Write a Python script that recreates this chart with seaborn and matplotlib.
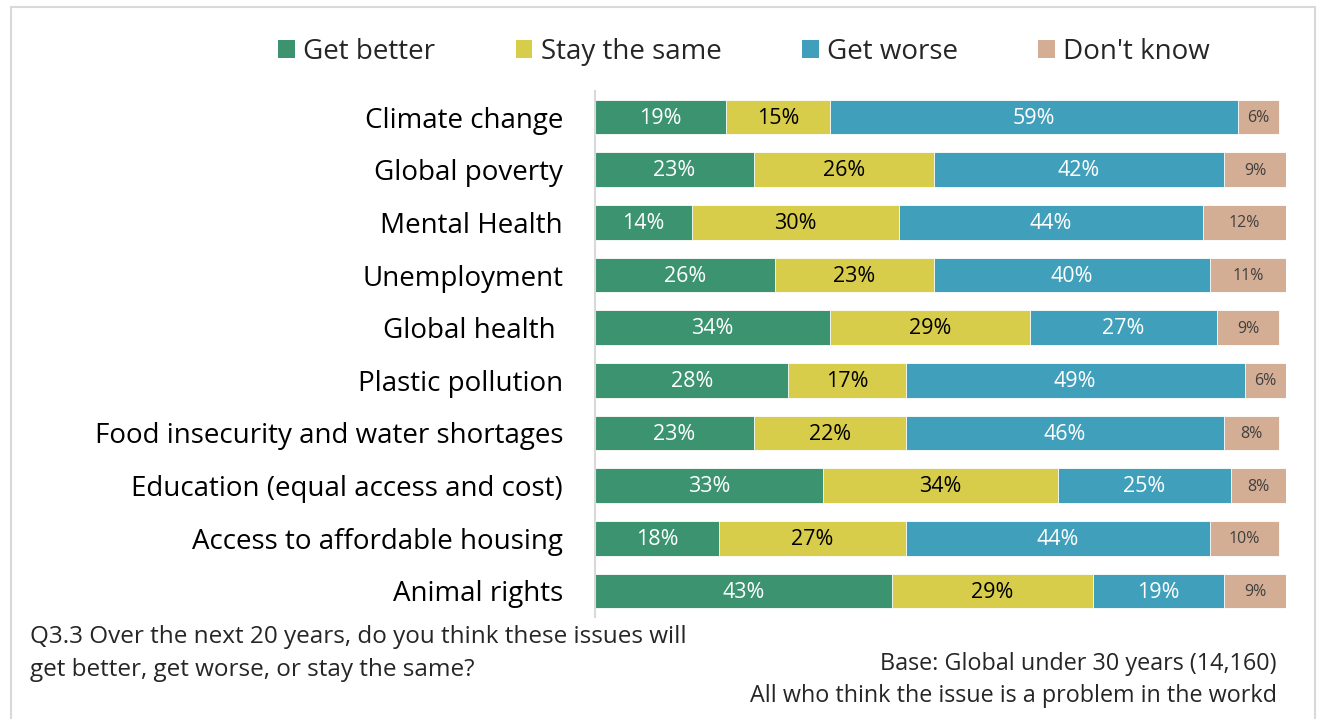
import matplotlib
matplotlib.use("Agg")
import matplotlib.pyplot as plt
import seaborn as sns
import numpy as np
import pandas as pd
from matplotlib.patches import Patch, Rectangle

issues = [
    "Climate change",
    "Global poverty",
    "Mental Health",
    "Unemployment",
    "Global health ",
    "Plastic pollution",
    "Food insecurity and water shortages",
    "Education (equal access and cost)",
    "Access to affordable housing",
    "Animal rights",
]
get_better = [19, 23, 14, 26, 34, 28, 23, 33, 18, 43]
stay_same = [15, 26, 30, 23, 29, 17, 22, 34, 27, 29]
get_worse = [59, 42, 44, 40, 27, 49, 46, 25, 44, 19]
dont_know = [6, 9, 12, 11, 9, 6, 8, 8, 10, 9]

series_names = ["Get better", "Stay the same", "Get worse", "Don't know"]
series_colors = ["#3B9370", "#D7CD4A", "#40A0BB", "#D3AD94"]
label_colors = ["white", "black", "white", "#404040"]

FONT = "Open Sans"

sns.set_theme(style="white")
plt.rcParams["font.family"] = [FONT, "DejaVu Sans"]

df = pd.DataFrame({
    "issue": issues,
    series_names[0]: get_better,
    series_names[1]: stay_same,
    series_names[2]: get_worse,
    series_names[3]: dont_know,
})
values = df[series_names].to_numpy(dtype=float)
cum = np.cumsum(values, axis=1)

fig = plt.figure(figsize=(13.17, 7.19), dpi=100)
ax = fig.add_axes([595 / 1317, 1 - 617.3 / 719, (1286 - 595) / 1317, (617.3 - 90.7) / 719])

# stacked bars: draw cumulative totals from the outermost segment inwards
for k in range(3, -1, -1):
    sns.barplot(
        x=cum[:, k], y=df["issue"], orient="h", color=series_colors[k],
        width=0.66, saturation=1, edgecolor="white", linewidth=0.6, ax=ax,
    )

# segment value labels
for i in range(len(issues)):
    for k in range(4):
        v = values[i, k]
        center = cum[i, k] - v / 2
        ax.text(center, i + 0.02, f"{int(v)}%", ha="center", va="center",
                color=label_colors[k], fontsize=15.5 if k < 3 else 11.5)

ax.set_xlim(0, 100)
ax.set_ylim(len(issues) - 0.5, -0.5)
ax.set_xlabel("")
ax.set_ylabel("")
ax.set_xticks([])
ax.tick_params(axis="y", length=0, pad=23, labelsize=20, labelcolor="black")
for s in ["top", "right", "bottom"]:
    ax.spines[s].set_visible(False)
ax.spines["left"].set_color("#D9D9D9")
ax.spines["left"].set_linewidth(1.5)

# legend across the top
handles = [Patch(facecolor=c, edgecolor="none") for c in series_colors]
fig.legend(handles, series_names, loc="center left", bbox_to_anchor=(278 / 1317, 1 - 52 / 719),
           ncol=4, frameon=False, fontsize=20, handlelength=0.6, handleheight=0.6,
           handletextpad=0.3, columnspacing=2.9, borderaxespad=0, borderpad=0)

# footnotes
fig.text(30 / 1317, 1 - 637 / 719, "Q3.3 Over the next 20 years, do you think these issues will",
         ha="left", va="center", fontsize=17.5)
fig.text(30 / 1317, 1 - 670 / 719, "get better, get worse, or stay the same?",
         ha="left", va="center", fontsize=17.5)
fig.text(1277 / 1317, 1 - 664 / 719, "Base: Global under 30 years (14,160)",
         ha="right", va="center", fontsize=16.8)
fig.text(1277 / 1317, 1 - 696 / 719, "All who think the issue is a problem in the workd",
         ha="right", va="center", fontsize=16.8)

# frame around the figure
frame = Rectangle((11 / 1317, -0.01), (1315 - 11) / 1317, (719 - 7) / 719 + 0.01,
                  transform=fig.transFigure, fill=False, edgecolor="#D9D9D9", linewidth=1.5)
fig.patches.append(frame)

fig.savefig("out.png", dpi=100, facecolor="white")
